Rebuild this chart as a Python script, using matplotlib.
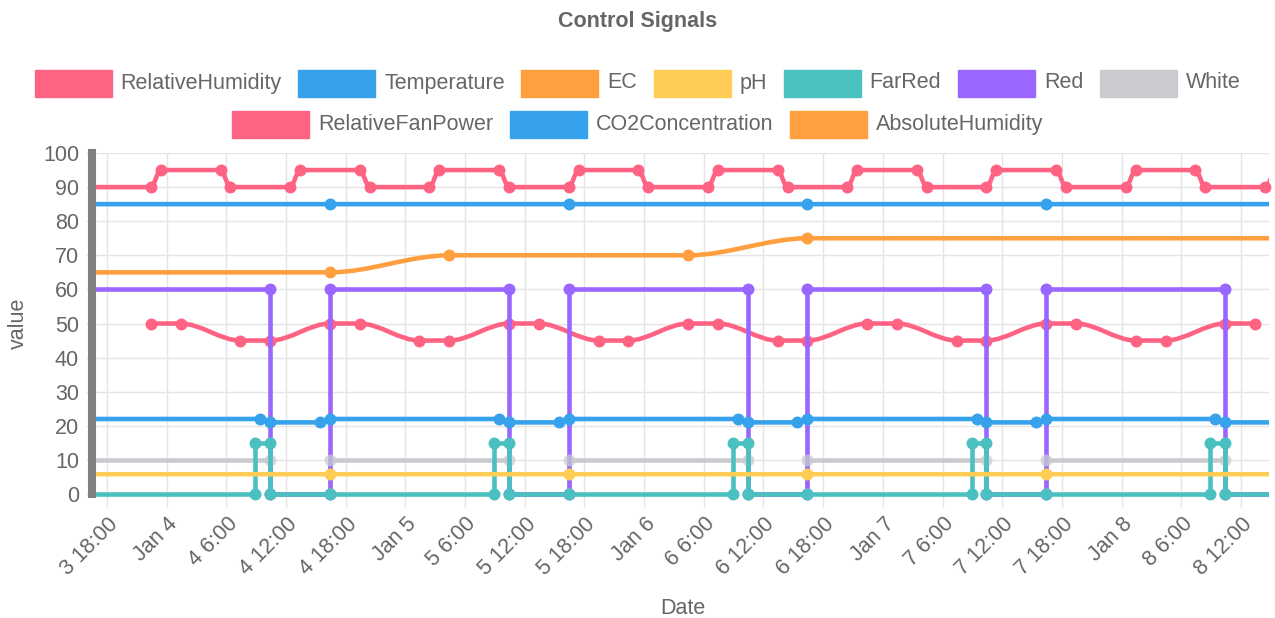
import matplotlib
matplotlib.use("Agg")
import numpy as np
import pandas as pd
import matplotlib.pyplot as plt
import matplotlib.dates as mdates
from matplotlib.path import Path
from matplotlib.patches import PathPatch, Rectangle
from matplotlib.transforms import Bbox, TransformedBbox, ScaledTranslation, IdentityTransform

plt.rcParams['font.family'] = ['Liberation Sans', 'DejaVu Sans']

# ---- data ----
title = 'Control Signals'
year = '2024-'
x_start = '01-03 16:54'
x_end = '01-08 14:49'

tick_labels = ['3 18:00', 'Jan 4', '4 6:00', '4 12:00', '4 18:00', 'Jan 5', '5 6:00', '5 12:00',
               '5 18:00', 'Jan 6', '6 6:00', '6 12:00', '6 18:00', 'Jan 7', '7 6:00', '7 12:00',
               '7 18:00', 'Jan 8', '8 6:00', '8 12:00']
tick_times = ['01-03 18:00', '01-04 00:00', '01-04 06:00', '01-04 12:00', '01-04 18:00',
              '01-05 00:00', '01-05 06:00', '01-05 12:00', '01-05 18:00', '01-06 00:00',
              '01-06 06:00', '01-06 12:00', '01-06 18:00', '01-07 00:00', '01-07 06:00',
              '01-07 12:00', '01-07 18:00', '01-08 00:00', '01-08 06:00', '01-08 12:00']

rh_times = ['01-03 16:25', '01-03 22:25', '01-03 23:25', '01-04 05:25', '01-04 06:25',
            '01-04 12:25', '01-04 13:25', '01-04 19:25', '01-04 20:25',
            '01-05 02:25', '01-05 03:25', '01-05 09:25', '01-05 10:25',
            '01-05 16:25', '01-05 17:25', '01-05 23:25', '01-06 00:25',
            '01-06 06:25', '01-06 07:25', '01-06 13:25', '01-06 14:25',
            '01-06 20:25', '01-06 21:25', '01-07 03:25', '01-07 04:25',
            '01-07 10:25', '01-07 11:25', '01-07 17:25', '01-07 18:25',
            '01-08 00:25', '01-08 01:25', '01-08 07:25', '01-08 08:25',
            '01-08 14:25', '01-08 15:25']
rh_values = [90, 90, 95, 95, 90, 90, 95, 95, 90, 90, 95, 95, 90, 90, 95, 95, 90,
             90, 95, 95, 90, 90, 95, 95, 90, 90, 95, 95, 90, 90, 95, 95, 90, 90, 95]

temp_times = ['01-03 16:25', '01-04 09:25', '01-04 10:25', '01-04 15:25', '01-04 16:25',
              '01-05 09:25', '01-05 10:25', '01-05 15:25', '01-05 16:25',
              '01-06 09:25', '01-06 10:25', '01-06 15:25', '01-06 16:25',
              '01-07 09:25', '01-07 10:25', '01-07 15:25', '01-07 16:25',
              '01-08 09:25', '01-08 10:25', '01-08 16:25']
temp_values = [22, 22, 21, 21, 22, 22, 21, 21, 22, 22, 21, 21, 22, 22, 21, 21, 22, 22, 21, 21]

ec_times = ['01-03 16:25', '01-04 16:25', '01-05 04:25', '01-06 04:25', '01-06 16:25', '01-08 16:25']
ec_values = [65, 65, 70, 70, 75, 75]

daily_times = ['01-03 16:25', '01-04 16:25', '01-05 16:25', '01-06 16:25', '01-07 16:25', '01-08 16:25']
ph_values = [5.8, 5.8, 5.8, 5.8, 5.8, 5.8]
co2_values = [85, 85, 85, 85, 85, 85]

farred_times = ['01-03 16:25',
                '01-04 08:55', '01-04 08:55', '01-04 10:25', '01-04 10:25', '01-04 16:25',
                '01-05 08:55', '01-05 08:55', '01-05 10:25', '01-05 10:25', '01-05 16:25',
                '01-06 08:55', '01-06 08:55', '01-06 10:25', '01-06 10:25', '01-06 16:25',
                '01-07 08:55', '01-07 08:55', '01-07 10:25', '01-07 10:25', '01-07 16:25',
                '01-08 08:55', '01-08 08:55', '01-08 10:25', '01-08 10:25', '01-08 16:25']
farred_values = [0, 0, 15, 15, 0, 0, 0, 15, 15, 0, 0, 0, 15, 15, 0, 0,
                 0, 15, 15, 0, 0, 0, 15, 15, 0, 0]

light_times = ['01-03 16:25',
               '01-04 10:25', '01-04 10:25', '01-04 16:25', '01-04 16:25',
               '01-05 10:25', '01-05 10:25', '01-05 16:25', '01-05 16:25',
               '01-06 10:25', '01-06 10:25', '01-06 16:25', '01-06 16:25',
               '01-07 10:25', '01-07 10:25', '01-07 16:25', '01-07 16:25',
               '01-08 10:25', '01-08 10:25', '01-08 16:25']
red_values = [60, 60, 0, 0, 60, 60, 0, 0, 60, 60, 0, 0, 60, 60, 0, 0, 60, 60, 0, 0]
white_values = [10, 10, 0, 0, 10, 10, 0, 0, 10, 10, 0, 0, 10, 10, 0, 0, 10, 10, 0, 0]

fan_times = ['01-03 22:25', '01-04 01:25', '01-04 07:25', '01-04 10:25', '01-04 16:25', '01-04 19:25',
             '01-05 01:25', '01-05 04:25', '01-05 10:25', '01-05 13:25', '01-05 19:25', '01-05 22:25',
             '01-06 04:25', '01-06 07:25', '01-06 13:25', '01-06 16:25', '01-06 22:25', '01-07 01:25',
             '01-07 07:25', '01-07 10:25', '01-07 16:25', '01-07 19:25', '01-08 01:25', '01-08 04:25',
             '01-08 10:25', '01-08 13:25']
fan_values = [50, 50, 45, 45, 50, 50, 45, 45, 50, 50, 45, 45, 50,
              50, 45, 45, 50, 50, 45, 45, 50, 50, 45, 45, 50, 50]

PINK = '#ff6384'
BLUE = '#36a2eb'
ORANGE = '#ff9f40'
YELLOW = '#ffcd56'
TEAL = '#4bc0c0'
PURPLE = '#9966ff'
GREY = '#c9cbcf'
TXT = '#666666'
GRID = '#e5e5e5'


def to_num(times):
    return mdates.date2num(pd.to_datetime([year + t for t in times]).to_pydatetime())


def monotone_path(x, y):
    # chart.js "monotone" cubic interpolation drawn as bezier segments
    x = np.asarray(x, float)
    y = np.asarray(y, float)
    n = len(x)
    dx = np.diff(x)
    dk = np.where(dx != 0, np.diff(y) / np.where(dx != 0, dx, 1), 0)
    m = np.zeros(n)
    for i in range(n):
        if i == 0:
            m[i] = dk[0]
        elif i == n - 1:
            m[i] = dk[-1]
        elif np.sign(dk[i - 1]) != np.sign(dk[i]):
            m[i] = 0
        else:
            m[i] = (dk[i - 1] + dk[i]) / 2
    for i in range(n - 1):
        if dk[i] == 0:
            m[i] = m[i + 1] = 0
            continue
        a, b = m[i] / dk[i], m[i + 1] / dk[i]
        s = a * a + b * b
        if s > 9:
            t = 3 / np.sqrt(s)
            m[i], m[i + 1] = a * t * dk[i], b * t * dk[i]
    verts = [(x[0], y[0])]
    codes = [Path.MOVETO]
    for i in range(n - 1):
        d = dx[i] / 3
        verts += [(x[i] + d, y[i] + m[i] * d), (x[i + 1] - d, y[i + 1] - m[i + 1] * d), (x[i + 1], y[i + 1])]
        codes += [Path.CURVE4] * 3
    return Path(verts, codes)


W, H = 1275, 618
fig = plt.figure(figsize=(W / 100, H / 100), dpi=100)
ax = fig.add_axes([96 / W, 1 - 494 / H, (1269 - 96) / W, (494 - 153) / H])

xmin, xmax = to_num([x_start, x_end])
ax.set_xlim(xmin, xmax)
ax.set_ylim(0, 100)
clip = TransformedBbox(Bbox([[0, -0.05], [1, 1.05]]), ax.transAxes)

LW = 3.3
MS = 8.6


def draw(times, values, color, z, smooth=True, mk_alpha=1.0, mk_z=None):
    x = to_num(times)
    y = np.asarray(values, float)
    if smooth:
        art = PathPatch(monotone_path(x, y), fill=False, edgecolor=color, lw=LW, zorder=z,
                        transform=ax.transData, capstyle='butt', joinstyle='miter')
        ax.add_patch(art)
    else:
        art, = ax.plot(x, y, color=color, lw=LW, zorder=z, solid_joinstyle='miter', solid_capstyle='butt')
    art.set_clip_box(clip)
    vis = (x >= xmin) & (x <= xmax)
    ax.plot(x[vis], y[vis], 'o', color=color, ms=MS, mew=0, alpha=mk_alpha,
            zorder=z + 0.5 if mk_z is None else mk_z, clip_on=False)


# chart.js paints the first dataset on top
draw(rh_times, rh_values, PINK, 30)
draw(temp_times, temp_values, BLUE, 28)
draw(ec_times, ec_values, ORANGE, 26)
draw(daily_times, ph_values, YELLOW, 24)
draw(farred_times, farred_values, TEAL, 22, smooth=False)
draw(light_times, red_values, PURPLE, 20, smooth=False)
draw(light_times, white_values, GREY, 18, smooth=False, mk_alpha=0.75, mk_z=21)
draw(fan_times, fan_values, PINK, 16)
draw(daily_times, co2_values, BLUE, 14)

# axes styling
ax.set_xticks(to_num(tick_times))
ax.set_xticklabels(tick_labels, rotation=45, ha='right', va='center', rotation_mode='anchor')
ax.set_yticks(np.arange(0, 101, 10))
ax.grid(True, color=GRID, lw=1)
ax.set_axisbelow(True)
for s in ['top', 'right', 'bottom']:
    ax.spines[s].set_visible(False)
ax.spines['left'].set_position(('outward', 2.9))
ax.spines['left'].set_color('#808080')
ax.spines['left'].set_linewidth(5.8)
ax.tick_params(axis='x', length=9.4, width=1, color=GRID, pad=10, labelsize=15.5, labelcolor=TXT)
ax.tick_params(axis='y', length=4.3, width=1, color=GRID, pad=5, labelsize=15.5, labelcolor=TXT)
offset = ScaledTranslation(0.08, 0, fig.dpi_scale_trans)
for lab in ax.get_xticklabels():
    lab.set_transform(lab.get_transform() + offset)

fig.text(18 / W, 1 - 323 / H, 'value', rotation=90, ha='center', va='center', fontsize=15.5, color=TXT)
fig.text(683 / W, 1 - 608 / H, 'Date', ha='center', va='center', fontsize=15.5, color=TXT)
fig.text(0.5, 1 - 22 / H, title, ha='center', va='center', fontsize=15.5, fontweight='bold', color=TXT)

# legend, laid out like chart.js (centred rows of box + label)
legend_rows = [
    [('RelativeHumidity', PINK), ('Temperature', BLUE), ('EC', ORANGE), ('pH', YELLOW),
     ('FarRed', TEAL), ('Red', PURPLE), ('White', GREY)],
    [('RelativeFanPower', PINK), ('CO2Concentration', BLUE), ('AbsoluteHumidity', ORANGE)],
]
row_y = [83, 124]
renderer = fig.canvas.get_renderer()
BOX_W, BOX_H, GAP, SEP = 77, 27, 9, 16.5
for items, yc in zip(legend_rows, row_y):
    widths = []
    for label, _ in items:
        t = fig.text(0, 0, label, fontsize=15.5)
        widths.append(t.get_window_extent(renderer).width)
        t.remove()
    total = sum(BOX_W + GAP + w for w in widths) + SEP * (len(items) - 1)
    x = (W - total) / 2
    for (label, color), w in zip(items, widths):
        fig.add_artist(Rectangle((x, H - yc - BOX_H / 2), BOX_W, BOX_H, transform=IdentityTransform(),
                                 facecolor=color, edgecolor=color, lw=1))
        fig.text((x + BOX_W + GAP) / W, 1 - yc / H, label, ha='left', va='center', fontsize=15.5, color=TXT)
        x += BOX_W + GAP + w + SEP

fig.savefig('out.png', dpi=100)
